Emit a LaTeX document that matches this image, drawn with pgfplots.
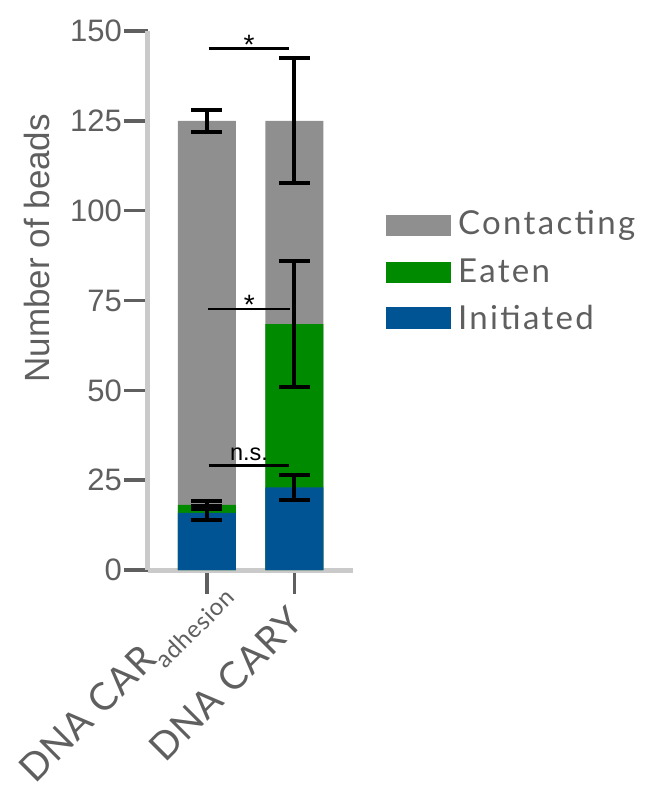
\documentclass[border=0pt]{standalone}
\usepackage{fontspec}
\setmainfont{Liberation Sans}
\newfontfamily\gill[LetterSpace=7]{Lato}
\newfontfamily\gilllab[LetterSpace=3]{Lato}
\usepackage{pgfplots}
\pgfplotsset{compat=1.18}

\definecolor{barGray}{HTML}{8F8F8F}
\definecolor{barGreen}{HTML}{008A00}
\definecolor{barBlue}{HTML}{005494}
\definecolor{axisGray}{HTML}{CACACA}
\definecolor{tickGray}{HTML}{5F5F5F}

\begin{document}
\begin{tikzpicture}
\useasboundingbox (-148pt,-223pt) rectangle (509pt,570pt);
\begin{axis}[
    at={(0pt,0pt)}, anchor=south west,
    width=205pt, height=539pt, scale only axis,
    xmin=-0.674, xmax=1.669,
    ymin=0, ymax=150,
    axis x line*=bottom, axis y line*=left,
    axis line style={line width=5pt, axisGray, -},
    xtick={0,1}, xticklabels={{},{}},
    ytick={0,25,...,150},
    tick align=outside,
    major tick length=24pt,
    tick style={line width=3.5pt, tickGray},
    /pgf/number format/assume math mode=true,
    yticklabel style={font=\fontsize{31}{31}\selectfont, text=tickGray, inner sep=2pt},
    ylabel={Number of beads},
    ylabel style={at={(axis description cs:-0.541,0.597)}, anchor=center,
        font=\fontsize{35}{35}\selectfont, text=tickGray},
    clip=false,
]
% bars drawn back to front at their cumulative heights
\addplot[ybar, bar width=58pt, bar shift=0pt, fill=barGray, draw=none]
    coordinates {(0,125) (1,125)};
\addplot[ybar, bar width=58pt, bar shift=0pt, fill=barGreen, draw=none]
    coordinates {(0,18.1) (1,68.4)};
\addplot[ybar, bar width=58pt, bar shift=0pt, fill=barBlue, draw=none]
    coordinates {(0,15.9) (1,23.0)};

% error bars
\addplot[draw=none, mark=none,
    error bars/.cd, y dir=both, y explicit,
    error bar style={draw=black, line width=4pt},
    error mark options={draw=black, line width=4pt, mark size=15.5pt, rotate=90}]
    coordinates {
    (0,125) +- (0,3.1)
    (1,125) +- (0,17.4)
    (0,18.1) +- (0,1.2)
    (1,68.4) +- (0,17.5)
    (0,15.9) +- (0,2.0)
    (1,23.0) +- (0,3.5)
    };

% significance marks
\draw[line width=2.7pt] (axis cs:0.02,145.2) -- (axis cs:0.937,145.2);
\node[anchor=base, inner sep=0, font=\fontsize{28}{28}\selectfont] at (axis cs:0.48,143.5) {*};
\draw[line width=2.7pt] (axis cs:0.015,72.6) -- (axis cs:0.945,72.6);
\node[anchor=base, inner sep=0, font=\fontsize{28}{28}\selectfont] at (axis cs:0.485,71) {*};
\draw[line width=2.7pt] (axis cs:0.02,29.1) -- (axis cs:0.94,29.1);
\node[anchor=base, inner sep=0, font=\fontsize{23.5}{23.5}\selectfont] at (axis cs:0.48,30.6) {n.s.};
\end{axis}

% category labels
\node[rotate=45, anchor=base west, inner sep=0, text=tickGray,
    font=\gilllab\fontsize{38}{38}\selectfont] at (-113pt,-215pt)
    {DNA CAR\raisebox{-11pt}{\fontsize{24}{24}\selectfont adhesion}};
\node[rotate=45, anchor=base west, inner sep=0, text=tickGray,
    font=\gilllab\fontsize{38}{38}\selectfont] at (17pt,-194pt) {DNA CARY};

% legend
\fill[barGray] (238pt,334pt) rectangle (303pt,355pt);
\fill[barGreen] (238pt,287.3pt) rectangle (303pt,308.3pt);
\fill[barBlue] (238pt,241pt) rectangle (303pt,262.7pt);
\node[anchor=base west, inner sep=0, text=tickGray, font=\gill\fontsize{33}{33}\selectfont]
    at (310pt,335pt) {Contacting};
\node[anchor=base west, inner sep=0, text=tickGray, font=\gill\fontsize{33}{33}\selectfont]
    at (310pt,287.7pt) {Eaten};
\node[anchor=base west, inner sep=0, text=tickGray, font=\gill\fontsize{33}{33}\selectfont]
    at (310pt,240.7pt) {Initiated};
\end{tikzpicture}
\end{document}
